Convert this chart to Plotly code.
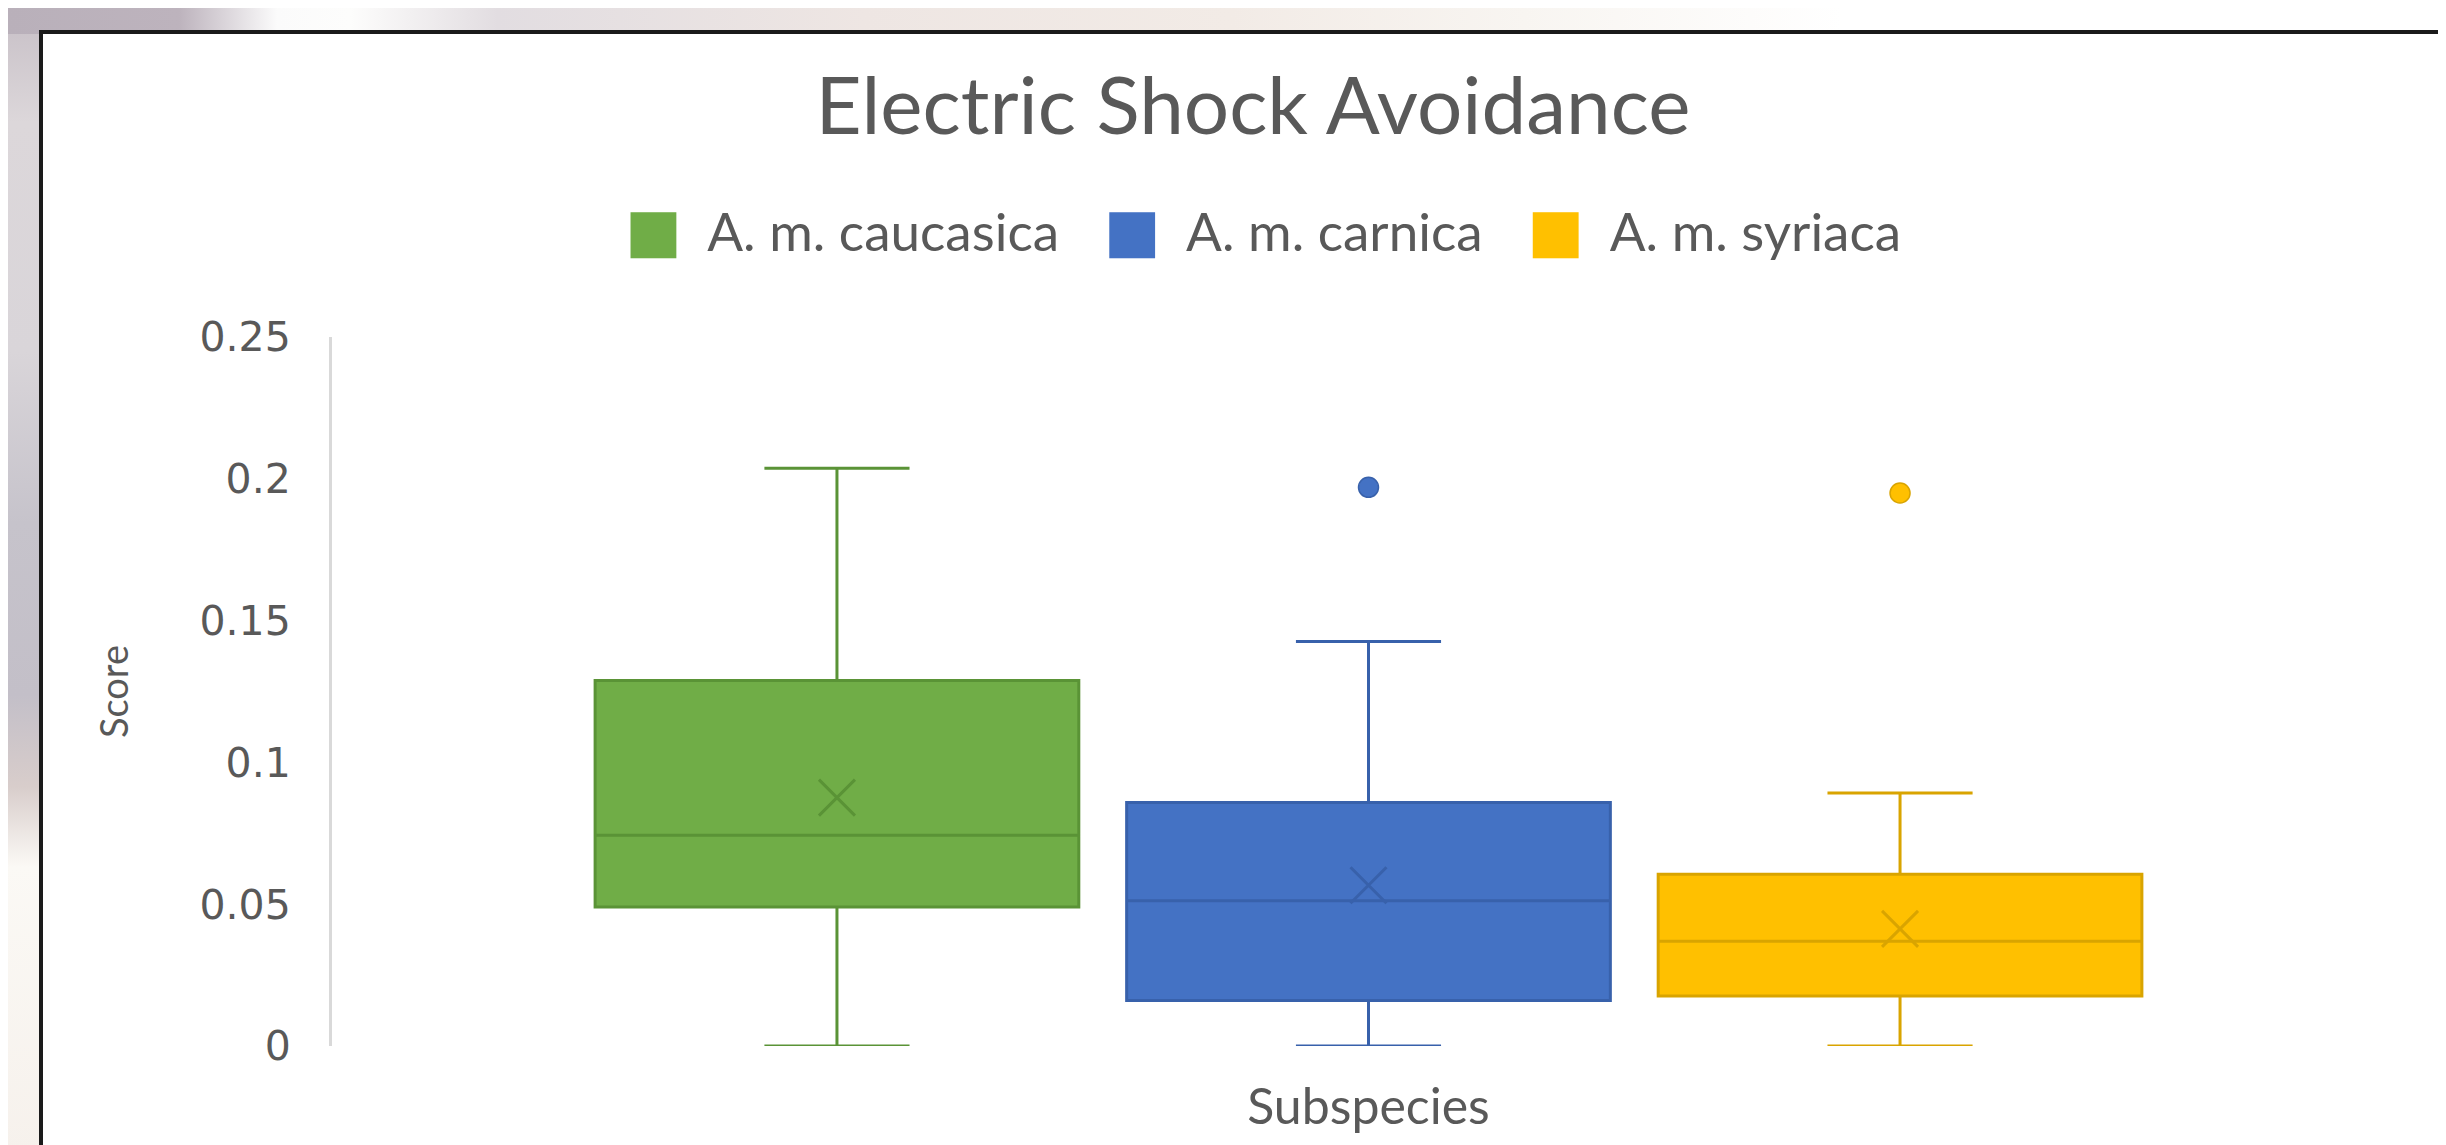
import base64
import plotly.graph_objects as go

# values (Excel box & whisker)
subspecies = ["A. m. caucasica", "A. m. carnica", "A. m. syriaca"]
q1 = [0.049, 0.016, 0.0176]
medians = [0.0743, 0.0512, 0.0369]
q3 = [0.1289, 0.0859, 0.0606]
lower = [0.0, 0.0, 0.0]
upper = [0.2037, 0.1426, 0.0892]
means = [0.0876, 0.0567, 0.0413]
outliers = [[], [0.197], [0.195]]

fills = ["#70AD47", "#4472C4", "#FFC000"]
edges = ["#5A9336", "#3861AB", "#D9A400"]

# the page body has an 8px margin, so everything is laid out 8px up/left
W, H = 2446, 1145
PW, PH = 2073, 709
ML, MT = 324, 329
MR, MB = W - ML - PW, H - MT - PH

font = "Lato, Carlito, Noto Sans, sans-serif"
grey = "#595959"

# blurred photo behind the chart panel, approximated with gradients
bg_svg = f"""<svg xmlns="http://www.w3.org/2000/svg" width="{W}" height="{H}">
<defs>
<linearGradient id="top" x1="0" y1="0" x2="1" y2="0">
<stop offset="0" stop-color="#b9b0ba"/><stop offset="0.07" stop-color="#bdb3bd"/>
<stop offset="0.11" stop-color="#fbfbfb"/><stop offset="0.14" stop-color="#fdfdfc"/>
<stop offset="0.2" stop-color="#e2dde1"/><stop offset="0.35" stop-color="#eee6e3"/>
<stop offset="0.5" stop-color="#f2ebe6"/><stop offset="0.62" stop-color="#f8f5f1"/>
<stop offset="0.75" stop-color="#ffffff"/><stop offset="1" stop-color="#ffffff"/>
</linearGradient>
<linearGradient id="left" x1="0" y1="0" x2="0" y2="1">
<stop offset="0" stop-color="#c7bfc6"/><stop offset="0.1" stop-color="#dcd7da"/>
<stop offset="0.3" stop-color="#d9d5d9"/><stop offset="0.45" stop-color="#c6c3cb"/>
<stop offset="0.6" stop-color="#c3bfc8"/><stop offset="0.68" stop-color="#d8cdcb"/>
<stop offset="0.75" stop-color="#fbf9f5"/><stop offset="1" stop-color="#f6f1ec"/>
</linearGradient>
</defs>
<rect x="0" y="0" width="{W}" height="{H}" fill="url(#left)"/>
<rect x="0" y="0" width="{W}" height="26" fill="url(#top)"/>
</svg>"""
bg_src = "data:image/svg+xml;base64," + base64.b64encode(bg_svg.encode()).decode()

fig = go.Figure()

for i, name in enumerate(subspecies):
    fig.add_trace(go.Box(
        x=[name], q1=[q1[i]], median=[medians[i]], q3=[q3[i]],
        lowerfence=[lower[i]], upperfence=[upper[i]],
        fillcolor=fills[i], line=dict(color=edges[i], width=3),
        whiskerwidth=0.3, boxpoints=False, showlegend=False, name=name,
    ))
    # mean marker (Excel draws an X)
    fig.add_trace(go.Scatter(
        x=[name], y=[means[i]], mode="markers", showlegend=False,
        marker=dict(symbol="x-thin-open", size=36, color=edges[i], line=dict(color=edges[i], width=3)),
    ))
    if outliers[i]:
        fig.add_trace(go.Scatter(
            x=[name] * len(outliers[i]), y=outliers[i], mode="markers", showlegend=False,
            marker=dict(symbol="circle", size=20, color=fills[i], line=dict(color=edges[i], width=1.5)),
        ))
    # legend entry with a big square glyph
    fig.add_trace(go.Scatter(
        x=[None], y=[None], mode="markers", marker=dict(size=1, color="rgba(0,0,0,0)"),
        name=(f'<span style="color:{fills[i]};font-family:DejaVu Sans;font-size:60px">■</span>'
              f'  {name}'),
    ))

fig.update_xaxes(
    type="category", categoryorder="array", categoryarray=subspecies,
    range=[-0.95, 2.95], showticklabels=False, showline=False, showgrid=False, zeroline=False,
    automargin=False,
    title=dict(text="Subspecies", font=dict(family=font, size=50, color=grey), standoff=42),
)
fig.update_yaxes(
    range=[0, 0.25], tickvals=[0, 0.05, 0.1, 0.15, 0.2, 0.25],
    ticktext=["0", "0.05", "0.1", "0.15", "0.2", "0.25"],
    tickfont=dict(family="DejaVu Sans", size=41, color=grey), ticklabelstandoff=30,
    showgrid=False, zeroline=False, showline=True, linecolor="#d9d9d9", linewidth=3,
    automargin=False,
    title=dict(text="Score", font=dict(family=font, size=38, color=grey), standoff=60),
)

fig.update_layout(
    width=W, height=H,
    margin=dict(l=ML, r=MR, t=MT, b=MB, autoexpand=False),
    paper_bgcolor="white", plot_bgcolor="white",
    boxgap=0.09, boxgroupgap=0,
    title=dict(text="Electric Shock Avoidance", x=0.509, xanchor="center",
               yref="container", y=1 - 98 / H, yanchor="middle",
               font=dict(family=font, size=80, color=grey)),
    legend=dict(orientation="h", xref="container", x=0.506, xanchor="center",
                yref="container", y=1 - 222 / H, yanchor="middle", bgcolor="rgba(0,0,0,0)",
                font=dict(family=font, size=53, color=grey), itemwidth=30),
    images=[dict(source=bg_src, xref="paper", yref="paper", x=-ML / PW, y=1 + MT / PH,
                 sizex=W / PW, sizey=H / PH, sizing="stretch", layer="below",
                 xanchor="left", yanchor="top")],
    shapes=[dict(type="rect", xref="paper", yref="paper", layer="below",
                 x0=(33 - ML) / PW, x1=1.05, y0=-0.2, y1=1 + (MT - 24) / PH,
                 fillcolor="white", line=dict(color="#1a1a1a", width=4))],
)

fig.write_html("out.html")
